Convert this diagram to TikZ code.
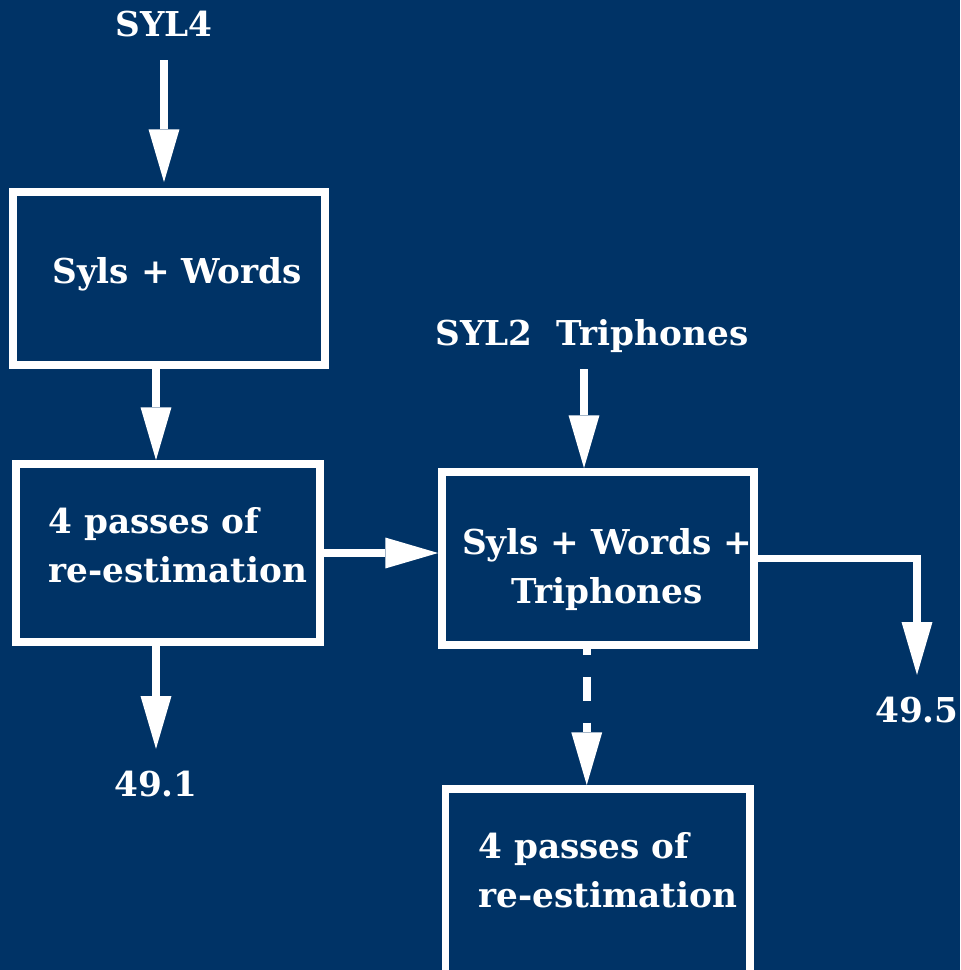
\documentclass[tikz,border=0pt]{standalone}
\usepackage{fontspec}
\setmainfont{DejaVu Serif}
\usepackage{tikz}
\usetikzlibrary{positioning}
\usetikzlibrary{arrows.meta}

\definecolor{slidebg}{RGB}{0,51,102}

\begin{document}
\begin{tikzpicture}[x=0.02cm, y=-0.02cm,
  box/.style={draw=white, line width=4.5pt, inner sep=0pt},
  txt/.style={text=white, font=\bfseries\fontsize{19.5pt}{27.7pt}\selectfont, inner sep=0pt},
  tag/.style={txt, text height=14.2pt, text depth=0pt, inner ysep=13pt},
  flow/.style={draw=white, line width=4.5pt, -{Triangle[length=30pt, width=17.6pt, line width=0pt]}},
  gapflow/.style={flow, dash pattern=on 13.6pt off 12.5pt, dash phase=10.2pt}]

 \useasboundingbox (0,0) rectangle (960,970);
 \fill[slidebg] (0,0) rectangle (960,970);

 % left column
 \node[tag] (syl4) at (164,24.5) {SYL4};
 \node[box, minimum width=6.24cm, minimum height=3.46cm,
   label={[txt, xshift=0.16cm, yshift=0.09cm]center:Syls + Words}] (words) at (169,278.5) {};
 \node[box, minimum width=6.08cm, minimum height=3.56cm,
   label={[txt, anchor=north west, align=left, xshift=0.72cm, yshift=-0.94cm]north west:4 passes of\\re-estimation}] (pass1) at (168,553) {};
 \node[tag] (r491) at (156,784.5) {49.1};

 % right column
 \node[tag] (syl2) at (592,333.5) {SYL2~~Triphones};
 \node[box, minimum width=6.24cm, minimum height=3.46cm,
   label={[txt, align=center, xshift=0.18cm, yshift=-0.22cm]center:Syls + Words +\\Triphones}] (trip) at (598,558.5) {};
 \node[box, minimum width=6.09cm, minimum height=4cm,
   label={[txt, anchor=north west, align=left, xshift=0.73cm, yshift=-0.94cm]north west:4 passes of\\re-estimation}] (pass2) at (597.75,889) {};
 \node[tag] (r495) at (917,710.5) {49.5};

 \coordinate (in3) at ([xshift=-0.28cm]trip.north);
 \coordinate (in4) at ([xshift=-0.22cm]pass2.north);

 \draw[flow, shorten >=3.4pt] (syl4) -- (syl4 |- words.north);
 \draw[flow] (words.south -| r491) -- (pass1.north -| r491);
 \draw[flow] (pass1.south -| r491) -- (r491);
 \draw[flow] (pass1.east) -- (pass1.east -| trip.west);
 \draw[flow] (syl2.south -| in3) -- (in3);
 \draw[flow] (trip.east) -| (r495);
 \draw[gapflow] (trip.south -| in4) -- (in4);

\end{tikzpicture}
\end{document}
